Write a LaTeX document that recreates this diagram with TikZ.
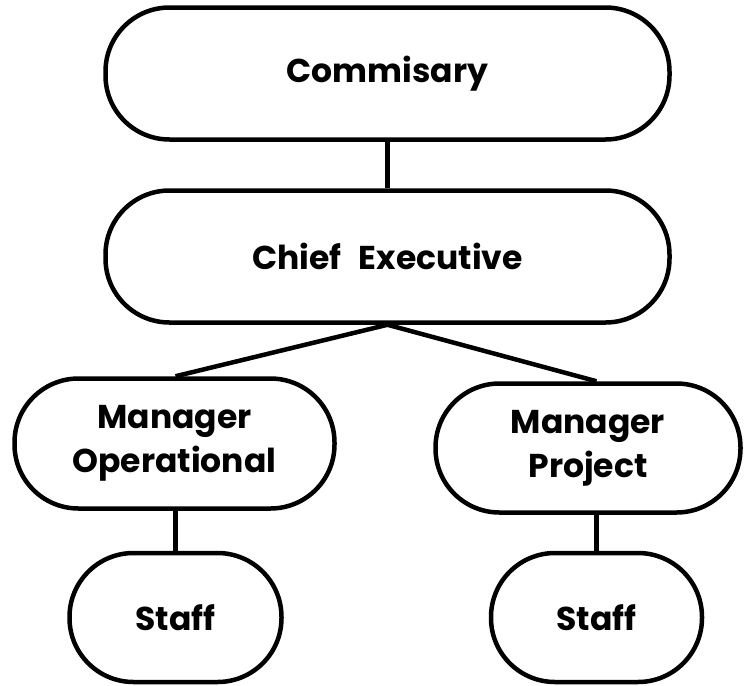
\documentclass[tikz,border=0pt]{standalone}
\usepackage{fontspec}
\setmainfont[WordSpace=2.5]{Poppins}
\begin{document}
\begin{tikzpicture}[x=1pt,y=1pt,
        box/.style={draw, line width=4.5pt, rounded corners=64pt, align=center,
            font=\fontsize{33}{44}\selectfont\bfseries, inner sep=0pt},
        link/.style={line width=4.5pt}]
        \useasboundingbox (0,0) rectangle (745,-686);
        \node[box, minimum width=564pt, minimum height=132pt] (comm) at (387.5,-73.5) {Commisary};
        \node[box, minimum width=564pt, minimum height=132pt] (chief) at (387.5,-256.5) {Chief Executive};
        \node[box, minimum width=320pt, minimum height=130pt] (mop) at (174.5,-443.5) {Manager\\Operational};
        \node[box, minimum width=305pt, minimum height=129pt] (mproj) at (588,-448) {Manager\\Project};
        \node[box, minimum width=212pt, minimum height=129pt] (staffa) at (175.5,-617.5) {Staff};
        \node[box, minimum width=211pt, minimum height=129pt] (staffb) at (596.5,-617.5) {Staff};
        \draw[link] (comm) -- (chief);
        \draw[link] (chief.south) -- (staffa.north |- mop.north);
        \draw[link] (chief.south) -- (staffb.north |- mproj.north);
        \draw[link] (staffa.north |- mop.south) -- (staffa.north);
        \draw[link] (staffb.north |- mproj.south) -- (staffb.north);
    \end{tikzpicture}
\end{document}
